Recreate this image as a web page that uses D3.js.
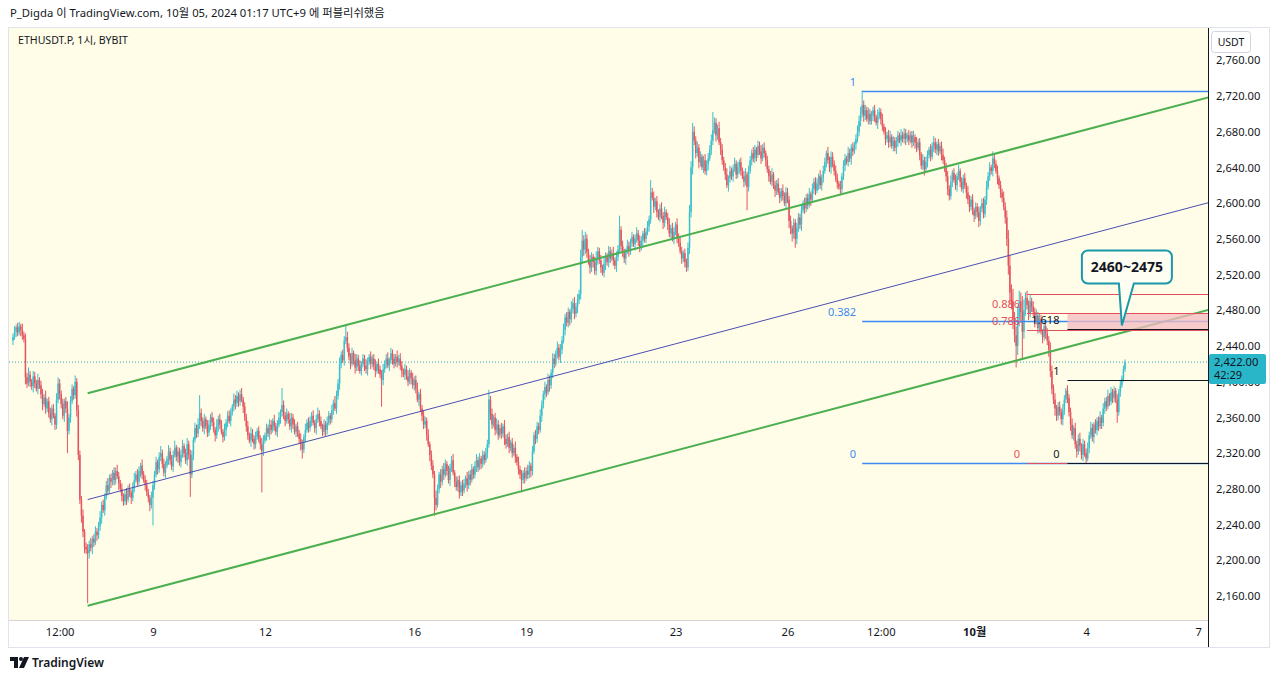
<!DOCTYPE html>
<html>
<head>
<meta charset="utf-8">
<script src="https://cdn.jsdelivr.net/npm/d3@7"></script>
<style>
  body { margin: 0; background: #fff; }
  svg { display: block; font-family: "Noto Sans", "Noto Sans CJK KR", sans-serif; }
</style>
</head>
<body>
<svg id="chart" width="1280" height="681"></svg>
<script>
// hourly candles, ETHUSDT.P (Bybit), first candle 2024-09-05 06:00 (UTC+9)
var firstOpen = 2446;
var closes = [
  2450,2456,2461,2455,2462,2458,2452,2448,2405,2398,2408,2400,2395,2406,2398,2392,2402,2396,2386,2375,2382,2370,2378,2365,
  2358,2370,2362,2352,2380,2398,2386,2375,2362,2378,2370,2345,2360,2378,2392,2385,2400,2368,2318,2268,2250,2232,2215,2212,
  2208,2218,2214,2224,2220,2232,2228,2238,2248,2262,2256,2272,2284,2278,2292,2288,2298,2290,2300,2294,2286,2280,2272,2266,
  2274,2268,2280,2276,2270,2282,2290,2296,2288,2300,2306,2296,2290,2284,2276,2270,2262,2270,2284,2296,2310,2302,2316,2320,
  2308,2298,2306,2314,2322,2312,2305,2318,2326,2316,2322,2310,2318,2328,2320,2312,2330,2318,2296,2318,2335,2348,2342,2352,
  2365,2356,2348,2358,2350,2343,2352,2360,2355,2346,2340,2350,2358,2352,2344,2338,2346,2354,2362,2356,2366,2372,2380,2376,
  2384,2378,2386,2380,2372,2360,2350,2340,2334,2342,2336,2330,2338,2345,2336,2330,2322,2334,2340,2348,2342,2352,2346,2356,
  2350,2344,2352,2360,2366,2374,2362,2356,2364,2358,2350,2360,2352,2344,2350,2342,2336,2330,2324,2338,2346,2354,2348,2356,
  2362,2354,2348,2358,2364,2356,2350,2344,2352,2346,2354,2362,2358,2368,2376,2370,2384,2398,2420,2430,2424,2446,2450,2438,
  2428,2420,2432,2424,2416,2426,2418,2412,2420,2426,2418,2414,2422,2428,2420,2426,2418,2412,2420,2414,2408,2402,2414,2420,
  2426,2418,2424,2432,2426,2420,2428,2422,2426,2418,2412,2408,2414,2406,2400,2410,2404,2396,2402,2392,2380,2386,2370,2362,
  2352,2356,2340,2330,2318,2306,2296,2270,2262,2280,2296,2288,2302,2296,2308,2300,2290,2304,2312,2298,2288,2282,2290,2276,
  2284,2278,2286,2292,2284,2296,2290,2302,2296,2306,2312,2304,2314,2308,2318,2312,2320,2330,2380,2364,2352,2360,2346,2352,
  2340,2348,2342,2350,2336,2330,2338,2326,2332,2320,2326,2316,2310,2302,2296,2290,2298,2292,2300,2296,2306,2300,2322,2340,
  2336,2350,2346,2362,2374,2386,2394,2388,2402,2396,2410,2426,2420,2432,2438,2428,2436,2446,2458,2472,2466,2478,2470,2482,
  2488,2476,2484,2492,2498,2540,2558,2548,2560,2545,2535,2528,2540,2534,2524,2538,2546,2536,2528,2522,2532,2540,2534,2546,
  2538,2544,2536,2530,2540,2548,2570,2552,2544,2538,2546,2552,2546,2556,2562,2554,2560,2566,2558,2550,2558,2566,2560,2568,
  2574,2582,2612,2606,2596,2602,2590,2584,2594,2586,2578,2590,2584,2576,2566,2572,2560,2568,2576,2562,2556,2546,2538,2544,
  2534,2528,2550,2590,2640,2680,2670,2656,2662,2646,2652,2640,2648,2636,2644,2650,2660,2670,2682,2690,2676,2684,2668,2660,
  2648,2640,2632,2620,2628,2636,2630,2638,2644,2632,2640,2646,2636,2630,2624,2632,2618,2636,2648,2656,2650,2660,2654,2664,
  2658,2650,2662,2656,2648,2638,2630,2624,2632,2620,2614,2622,2612,2606,2614,2608,2600,2612,2604,2580,2572,2566,2578,2560,
  2572,2584,2576,2592,2600,2594,2606,2598,2610,2604,2616,2624,2614,2622,2630,2620,2628,2636,2646,2656,2648,2640,2652,2644,
  2636,2628,2622,2618,2616,2630,2642,2650,2646,2656,2650,2662,2658,2666,2672,2680,2692,2700,2710,2698,2704,2694,2700,2692,
  2698,2704,2696,2690,2698,2702,2694,2686,2680,2672,2676,2668,2674,2664,2670,2662,2668,2676,2670,2676,2672,2678,2672,2676,
  2670,2676,2668,2674,2668,2662,2668,2654,2642,2648,2638,2646,2654,2660,2652,2664,2668,2660,2666,2658,2664,2654,2648,2640,
  2630,2616,2608,2624,2634,2626,2620,2630,2636,2624,2616,2628,2620,2612,2604,2596,2604,2592,2586,2596,2590,2580,2594,2600,
  2588,2604,2618,2630,2640,2636,2650,2644,2636,2628,2620,2612,2606,2596,2584,2560,2530,2500,2490,2470,2452,2440,2470,2490,
  2478,2456,2480,2494,2486,2476,2490,2484,2478,2468,2474,2460,2470,2456,2450,2462,2454,2446,2436,2412,2392,2380,2370,2362,
  2372,2366,2358,2368,2380,2390,2382,2366,2352,2340,2348,2330,2322,2336,2328,2318,2330,2320,2314,2326,2340,2348,2338,2352,
  2346,2356,2350,2360,2354,2370,2378,2372,2384,2378,2388,2382,2390,2380,2366,2388,2396,2404,2414,2422
];
// wick length above / below the body, in USDT
var wickUp = [
  4,6,3,5,5,3,7,4,6,5,8,4,3,6,5,4,7,3,5,6,4,8,3,5,
  6,4,5,3,7,7,5,4,6,3,5,8,4,6,5,3,7,4,6,5,4,7,3,5,
  6,4,7,3,5,6,4,5,7,4,6,3,5,8,4,5,3,6,4,7,5,4,6,3,
  5,7,4,6,3,5,8,4,6,5,3,7,4,5,6,4,3,7,5,4,6,3,5,8,
  4,6,5,3,7,4,6,5,8,3,5,4,6,7,3,5,7,4,6,5,3,6,4,7,
  20,5,4,6,3,7,5,4,6,5,3,8,4,6,5,3,7,4,5,6,4,3,7,5,
  6,4,5,7,3,5,4,6,3,7,5,4,6,3,5,4,7,6,3,5,4,6,5,3,
  7,4,5,6,3,19,5,4,6,3,7,5,4,6,3,5,4,6,5,3,7,4,6,5,
  4,6,3,5,7,4,5,3,6,4,7,5,3,6,4,8,6,5,7,4,6,5,13,6,
  5,4,6,3,7,5,4,6,3,5,4,7,5,3,6,4,5,7,3,6,4,5,6,4,
  5,7,3,6,4,5,3,7,4,6,5,3,6,4,7,5,3,6,4,5,7,3,6,4,
  6,5,4,7,3,5,6,4,8,5,3,6,4,7,5,3,6,4,5,7,3,6,4,5,
  4,6,5,3,7,4,5,6,3,5,7,4,6,3,5,4,6,5,11,4,6,3,5,7,
  5,4,6,3,7,5,4,6,3,5,4,7,3,6,4,5,3,6,4,7,5,3,6,4,
  6,5,4,7,5,4,6,3,7,5,4,6,5,3,7,4,6,5,7,4,6,5,3,8,
  5,7,4,6,5,8,12,6,8,5,4,7,5,3,6,8,5,4,6,3,7,5,4,6,
  5,4,7,3,6,5,16,4,6,5,3,7,5,4,6,3,5,7,4,6,5,3,6,4,
  6,4,14,5,7,4,6,3,5,7,4,6,3,5,7,4,6,5,3,7,4,6,5,3,
  5,4,6,8,7,10,6,5,7,4,6,3,5,7,4,6,5,7,20,6,5,4,7,5,
  6,4,5,7,3,6,4,5,7,4,6,3,5,4,6,7,3,6,5,4,7,5,3,6,
  5,7,4,6,3,5,4,6,7,3,5,4,6,5,3,7,4,6,5,4,6,3,5,4,
  6,5,4,7,3,6,4,5,7,3,6,4,5,6,3,7,4,6,5,3,7,4,6,5,
  4,6,5,3,7,4,6,5,3,7,5,4,6,3,5,7,6,8,16,5,6,4,7,5,
  5,4,6,3,7,5,4,6,3,5,4,6,7,3,5,4,6,5,3,7,4,6,5,3,
  6,4,5,7,3,6,4,5,3,7,4,6,5,3,6,4,7,5,3,6,4,5,7,4,
  5,6,4,7,3,5,6,4,7,3,5,4,6,3,7,5,4,6,3,5,4,6,3,5,
  6,4,7,5,6,3,8,5,4,6,3,5,4,7,5,8,10,12,9,14,8,10,15,12,
  10,18,12,6,8,5,7,4,6,5,7,4,6,5,3,7,4,6,5,8,6,5,7,4,
  5,6,4,7,5,3,6,4,5,7,3,6,4,5,7,3,6,4,5,6,4,7,5,3,
  6,4,5,7,3,6,4,5,7,3,6,4,5,3,6,4,5,3,4,3
];
var wickDown = [
  5,3,6,4,3,7,5,4,8,5,3,6,4,7,5,3,6,4,5,7,3,6,4,5,
  4,7,3,6,5,4,6,5,4,7,5,25,4,6,3,5,4,7,6,5,8,6,7,5,
  56,6,4,7,5,3,6,4,5,7,3,6,4,5,3,7,4,6,5,3,7,4,6,5,
  4,6,3,5,7,4,6,3,5,4,7,5,3,6,4,5,7,4,31,5,3,6,4,5,
  5,4,6,3,7,5,4,6,3,5,7,4,6,3,5,4,6,5,25,4,6,3,5,4,
  5,6,4,7,3,5,4,6,5,3,7,4,6,5,3,6,4,7,5,3,6,4,5,7,
  4,6,5,3,7,4,6,5,3,7,4,6,5,3,4,6,46,5,3,6,4,7,5,3,
  5,4,6,3,7,5,4,6,3,5,4,7,5,3,6,4,5,7,10,4,6,3,5,4,
  6,3,5,7,4,6,3,5,4,7,5,3,6,4,5,3,6,4,7,5,3,6,4,5,
  4,6,3,5,7,4,6,3,5,4,6,5,7,3,6,4,5,7,3,5,4,30,6,4,
  5,3,6,4,7,5,3,6,4,5,7,3,6,4,5,3,7,4,6,5,3,7,4,6,
  5,4,6,3,7,5,4,20,6,3,5,7,4,6,3,5,4,7,5,3,6,4,5,7,
  4,6,3,5,7,4,6,3,5,4,7,5,3,6,4,5,3,6,4,7,5,3,6,4,
  5,3,6,4,7,5,3,6,4,5,3,7,4,6,5,14,4,6,3,5,4,7,5,3,
  6,4,5,3,7,4,6,5,3,7,4,6,5,3,6,4,7,5,3,6,4,5,7,4,
  5,6,4,7,5,6,8,7,5,6,4,7,5,6,4,5,7,4,6,3,5,7,4,6,
  5,3,6,4,7,5,3,6,4,5,7,3,6,4,5,3,7,4,6,5,3,6,4,5,
  4,6,5,3,7,4,6,3,5,4,7,5,3,6,4,5,3,6,4,7,5,3,6,4,
  6,5,4,7,6,8,5,6,4,7,5,3,6,4,5,7,3,6,5,4,7,5,3,6,
  5,4,6,3,7,5,4,6,3,5,4,7,5,3,6,4,26,5,3,6,4,5,7,3,
  4,6,3,5,7,4,6,3,5,4,7,5,3,6,4,5,3,6,4,8,7,9,6,10,
  6,4,5,7,3,6,4,5,3,7,4,6,5,3,7,4,6,5,3,6,4,5,7,4,
  5,4,6,3,7,5,4,6,3,5,4,7,5,3,6,4,5,6,4,7,5,3,6,4,
  4,6,5,3,7,4,6,5,3,7,4,6,5,3,6,4,7,5,3,6,4,5,7,4,
  5,3,6,4,7,5,3,6,4,5,7,3,6,4,5,3,7,4,6,5,3,6,4,5,
  6,7,5,4,6,3,5,7,4,6,3,5,4,7,5,6,4,5,7,4,6,7,5,4,
  5,4,6,3,5,4,6,5,3,7,4,6,5,4,7,8,10,12,9,11,8,24,10,8,
  12,30,8,6,5,7,4,6,5,7,4,6,5,3,7,4,6,5,8,7,6,5,8,6,
  5,4,6,7,5,4,6,5,7,4,6,5,7,4,6,5,7,4,5,3,6,4,5,7,
  4,6,5,3,7,4,6,5,3,5,4,6,5,4,12,4,5,3,4,3
];

var priceTicks = [2160,2200,2240,2280,2320,2360,2400,2440,2480,2520,2560,2600,2640,2680,2720,2760];
var timeTicks = ["2024-09-06T12:00","2024-09-09T00:00","2024-09-12T00:00","2024-09-16T00:00","2024-09-19T00:00",
                 "2024-09-23T00:00","2024-09-26T00:00","2024-09-28T12:00","2024-10-01T00:00","2024-10-04T00:00","2024-10-07T00:00"];
var timeLabels = ["12:00","9","12","16","19","23","26","12:00","10월","4","7"];

// drawings: [time, price] anchors
var channelUpper = [["2024-09-07T06:00", 2387], ["2024-10-07T12:00", 2721]];
var channelLower = [["2024-09-07T06:00", 2149], ["2024-10-07T12:00", 2483]];
var midLine      = [["2024-09-07T06:00", 2268], ["2024-10-07T12:00", 2603]];
var blueFibStart = "2024-09-28T00:00", blueFibHigh = 2726, blueFibLow = 2309;
var blueFibLevels = [1, 0.382, 0];
var redFibStart = "2024-10-02T10:00", redFibHigh = 2498.6, redFibLow = 2309;
var redFibLevels = [1, 0.886, 0.786, 0];
var redFibLabels = ["", "0.886", "0.786", "0"];
var extStart = "2024-10-03T12:00", extOne = 2402, extZero = 2309;
var extLevels = [1.618, 1, 0];
var zoneStart = "2024-10-03T12:00", zoneTop = 2477, zoneBottom = 2458;
var calloutTime = "2024-10-04T23:00", calloutPrice = 2463, calloutText = "2460~2475";
var lastPrice = 2422, countdown = "42:29";

var svg = d3.select('#chart');
var W = 1280, H = 681;
var plot = { left: 9, right: 1208, top: 28, bottom: 620 };

function kst(s) { return new Date(s + 'Z'); }   // wall time in UTC+9, kept as UTC
var t0 = kst("2024-09-05T06:00");
var HOUR = 3600000;

var x = d3.scaleUtc()
    .domain([t0, new Date(+t0 + (closes.length - 1) * HOUR)])
    .range([13, 1125]);
var y = d3.scaleLinear().domain([2160, 2720]).range([596, 96]);

var candles = closes.map(function(c, i) {
    var o = i === 0 ? firstOpen : closes[i - 1];
    return {
        t: new Date(+t0 + i * HOUR), o: o, c: c,
        h: Math.max(o, c) + wickUp[i],
        l: Math.min(o, c) - wickDown[i]
    };
});

// frame
svg.append('rect').attr('width', W).attr('height', H).attr('fill', '#fff');
svg.append('rect')
    .attr('x', plot.left).attr('y', plot.top)
    .attr('width', plot.right - plot.left).attr('height', plot.bottom - plot.top)
    .attr('fill', '#fffde8');

svg.append('defs').append('clipPath').attr('id', 'clip')
  .append('rect')
    .attr('x', plot.left).attr('y', plot.top)
    .attr('width', plot.right - plot.left).attr('height', plot.bottom - plot.top);

var g = svg.append('g').attr('clip-path', 'url(#clip)');

// current price dotted line
g.append('line')
    .attr('x1', plot.left).attr('x2', plot.right)
    .attr('y1', y(lastPrice)).attr('y2', y(lastPrice))
    .attr('stroke', '#2aa9bd').attr('stroke-width', 1).attr('stroke-dasharray', '1,2');

// candles
var UP = '#39bfcd', DOWN = '#e4545f';
var cg = g.append('g');
cg.selectAll('line.wick').data(candles).enter().append('line')
    .attr('class', 'wick')
    .attr('x1', function(d) { return x(d.t); }).attr('x2', function(d) { return x(d.t); })
    .attr('y1', function(d) { return y(d.h); }).attr('y2', function(d) { return y(d.l); })
    .attr('stroke', function(d) { return d.c >= d.o ? UP : DOWN; })
    .attr('stroke-width', 1);
cg.selectAll('rect.body').data(candles).enter().append('rect')
    .attr('class', 'body')
    .attr('x', function(d) { return x(d.t) - 0.75; })
    .attr('width', 1.5)
    .attr('y', function(d) { return y(Math.max(d.o, d.c)); })
    .attr('height', function(d) { return Math.max(1, Math.abs(y(d.o) - y(d.c))); })
    .attr('fill', function(d) { return d.c >= d.o ? UP : DOWN; });

// trend lines
function trend(pts, color, width) {
    g.append('line')
        .attr('x1', x(kst(pts[0][0]))).attr('y1', y(pts[0][1]))
        .attr('x2', x(kst(pts[1][0]))).attr('y2', y(pts[1][1]))
        .attr('stroke', color).attr('stroke-width', width);
}
trend(midLine, '#4a4fb0', 1);
trend(channelUpper, '#4caf50', 2);
trend(channelLower, '#4caf50', 2);

// fib retracements
function fib(start, p1, p0, levels, labels, color, gap, width) {
    var xs = x(kst(start));
    levels.forEach(function(lv, k) {
        var yy = Math.round(y(p0 + lv * (p1 - p0))) + 0.5;
        g.append('line')
            .attr('x1', xs).attr('x2', plot.right)
            .attr('y1', yy).attr('y2', yy)
            .attr('stroke', color).attr('stroke-width', width || 1);
        if (labels[k] !== '') {
            svg.append('text')
                .attr('x', xs - gap).attr('y', yy - 6)
                .attr('text-anchor', 'end')
                .attr('font-size', 11)
                .attr('fill', color)
                .text(labels[k]);
        }
    });
}
fib(blueFibStart, blueFibHigh, blueFibLow, blueFibLevels,
    blueFibLevels.map(String), '#3d8bf2', 6, 1.3);

// 2460~2475 zone
g.append('rect')
    .attr('x', x(kst(zoneStart))).attr('y', y(zoneTop))
    .attr('width', plot.right - x(kst(zoneStart)))
    .attr('height', y(zoneBottom) - y(zoneTop))
    .attr('fill', '#f4b9c0').attr('fill-opacity', 0.75);

fib(redFibStart, redFibHigh, redFibLow, redFibLevels, redFibLabels, '#e2505e', 7);
fib(extStart, extOne, extZero, extLevels, extLevels.map(String), '#131722', 8);

// callout
(function() {
    var tx = x(kst(calloutTime)), ty = y(calloutPrice);
    var bx = tx - 40, bw = 90, by = ty - 75, bh = 33, r = 6;
    var p = d3.path();
    p.moveTo(bx + r, by);
    p.lineTo(bx + bw - r, by); p.arcTo(bx + bw, by, bx + bw, by + r, r);
    p.lineTo(bx + bw, by + bh - r); p.arcTo(bx + bw, by + bh, bx + bw - r, by + bh, r);
    p.lineTo(tx + 12, by + bh); p.lineTo(tx, ty); p.lineTo(tx - 3, by + bh);
    p.lineTo(bx + r, by + bh); p.arcTo(bx, by + bh, bx, by + bh - r, r);
    p.lineTo(bx, by + r); p.arcTo(bx, by, bx + r, by, r);
    p.closePath();
    svg.append('path').attr('d', p.toString())
        .attr('fill', '#fffef3').attr('stroke', '#1a98a8').attr('stroke-width', 2);
    svg.append('text')
        .attr('x', bx + bw / 2).attr('y', by + bh / 2 + 5)
        .attr('text-anchor', 'middle')
        .attr('font-size', 14).attr('font-weight', 'bold')
        .attr('fill', '#131722')
        .text(calloutText);
})();

// price axis
var yAxis = d3.axisRight(y).tickValues(priceTicks).tickSize(0).tickPadding(8)
    .tickFormat(d3.format(',.2f'));
var ya = svg.append('g').attr('transform', 'translate(' + plot.right + ',0)').call(yAxis);
ya.select('.domain').remove();
ya.selectAll('text').attr('font-size', 11.2).attr('fill', '#131722')
    .style('font-family', '"Noto Sans", sans-serif');

// time axis
var xAxis = d3.axisBottom(x).tickValues(timeTicks.map(kst)).tickSize(0).tickPadding(8)
    .tickFormat(function(d, i) { return timeLabels[i]; });
var xa = svg.append('g').attr('transform', 'translate(0,' + plot.bottom + ')').call(xAxis);
xa.select('.domain').remove();
xa.selectAll('text').attr('font-size', 11.2).attr('fill', '#131722')
    .attr('font-weight', function(d, i) { return timeLabels[i] === '10월' ? 'bold' : null; })
    .style('font-family', '"Noto Sans", "Noto Sans CJK KR", sans-serif');

// axis borders
svg.append('line').attr('x1', plot.left).attr('x2', plot.right)
    .attr('y1', plot.bottom + 0.5).attr('y2', plot.bottom + 0.5).attr('stroke', '#d6d6d6');
svg.append('line').attr('x1', plot.right + 0.5).attr('x2', plot.right + 0.5)
    .attr('y1', plot.top).attr('y2', 648).attr('stroke', '#131722');
svg.append('rect').attr('x', plot.left - 0.5).attr('y', plot.top - 0.5)
    .attr('width', 1270 - plot.left).attr('height', 648 - plot.top)
    .attr('fill', 'none').attr('stroke', '#e0e3eb');

// last price tag (drawn over the 2,400 tick, as on the original)
var ly = y(lastPrice);
svg.append('rect').attr('x', plot.right + 1).attr('y', ly - 8)
    .attr('width', 57).attr('height', 30).attr('rx', 2).attr('fill', '#2ab6c9');
svg.append('text').attr('x', plot.right + 6).attr('y', ly + 4)
    .attr('font-size', 11.2).attr('fill', '#131722').text(d3.format(',.2f')(lastPrice));
svg.append('text').attr('x', plot.right + 6).attr('y', ly + 17)
    .attr('font-size', 11).attr('fill', '#131722').text(countdown);

// currency box
svg.append('rect').attr('x', 1211.5).attr('y', 31.5).attr('width', 39).attr('height', 21)
    .attr('rx', 3).attr('fill', '#fff').attr('stroke', '#d1d4dc');
svg.append('text').attr('x', 1231).attr('y', 46).attr('text-anchor', 'middle')
    .attr('font-size', 10.5).attr('fill', '#131722').text('USDT');

// titles
svg.append('text').attr('x', 10).attr('y', 17).attr('font-size', 11.3).attr('fill', '#131722')
    .text('P_Digda 이 TradingView.com, 10월 05, 2024 01:17 UTC+9 에 퍼블리쉬했음');
svg.append('text').attr('x', 18).attr('y', 44).attr('font-size', 10.6).attr('fill', '#131722')
    .text('ETHUSDT.P, 1시, BYBIT');

// TradingView mark
var logo = svg.append('g').attr('transform', 'translate(10,657)').attr('fill', '#131722');
logo.append('path').attr('d', 'M0 0 H8 V11 H4 V4 H0 Z');
logo.append('circle').attr('cx', 11).attr('cy', 2).attr('r', 2);
logo.append('path').attr('d', 'M14 0 H19 L14 11 H9 Z');
svg.append('text').attr('x', 32).attr('y', 667).attr('font-size', 12).attr('font-weight', 600)
    .attr('fill', '#131722').text('TradingView');
</script>
</body>
</html>
